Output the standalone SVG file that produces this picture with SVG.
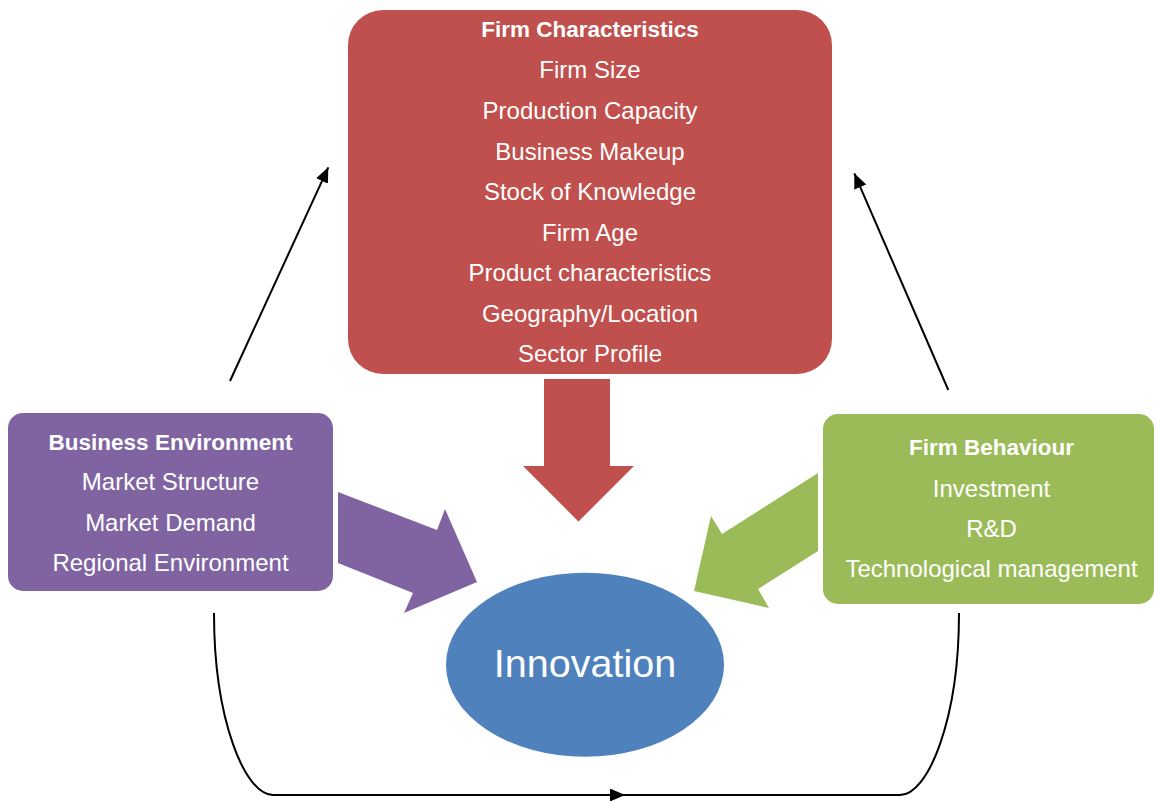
<svg xmlns="http://www.w3.org/2000/svg" width="1154" height="801" viewBox="0 0 1154 801">
<style>
  .t{font-family:"Liberation Sans",Arial,sans-serif;font-size:24px;fill:#ffffff;text-anchor:middle}
  .b{font-weight:bold;font-size:22.5px}
  .ln{fill:none;stroke:#000;stroke-width:2}
</style>
<defs>
  <marker id="ah" markerUnits="userSpaceOnUse" markerWidth="16" markerHeight="14" refX="15" refY="6.5" orient="auto">
    <path d="M0,0 L15,6.5 L0,13 Z" fill="#000"/>
  </marker>
</defs>
<rect width="1154" height="801" fill="#fff"/>

<g id="connectors">
  <path class="ln" d="M230,381 L328.3,167.3" marker-end="url(#ah)"/>
  <path class="ln" d="M948.3,390 L854.3,173.3" marker-end="url(#ah)"/>
  <path class="ln" d="M214,613 C214,720 245,795 273,795 L625,795" marker-end="url(#ah)"/>
  <path class="ln" d="M624,795 L900,795 C928,795 959,720 959,613"/>
  <polygon id="arrow-red" points="544,379 610,379 610,466 634,466 578.5,521.5 523,466 544,466" fill="#C0504D"/>
  <polygon id="arrow-purple" points="338,492 437,530 445,509 477,582 404,613 413,593 338,563" fill="#8064A2"/>
  <polygon id="arrow-green" points="818,473 722,534 711,516 694,591 769,608 758,589 818,551" fill="#9BBB59"/>
</g>

<g id="firm-characteristics">
  <rect x="348" y="10" width="484" height="364" rx="35" ry="35" fill="#C0504D"/>
  <text class="t b" x="590" y="36.7">Firm Characteristics</text>
  <text class="t" x="590" y="78.3">Firm Size</text>
  <text class="t" x="590" y="118.9">Production Capacity</text>
  <text class="t" x="590" y="159.5">Business Makeup</text>
  <text class="t" x="590" y="200.1">Stock of Knowledge</text>
  <text class="t" x="590" y="240.7">Firm Age</text>
  <text class="t" x="590" y="281.3">Product characteristics</text>
  <text class="t" x="590" y="321.9">Geography/Location</text>
  <text class="t" x="590" y="362.3">Sector Profile</text>
</g>

<g id="business-environment">
  <rect x="8" y="413" width="325" height="178" rx="15" ry="15" fill="#8064A2"/>
  <text class="t b" x="170.5" y="449.5">Business Environment</text>
  <text class="t" x="170.5" y="490">Market Structure</text>
  <text class="t" x="170.5" y="530.5">Market Demand</text>
  <text class="t" x="170.5" y="571">Regional Environment</text>
</g>

<g id="firm-behaviour">
  <rect x="823" y="414" width="331" height="190" rx="15" ry="15" fill="#9BBB59"/>
  <text class="t b" x="991.5" y="455">Firm Behaviour</text>
  <text class="t" x="991.5" y="496.5">Investment</text>
  <text class="t" x="991.5" y="536.7">R&amp;D</text>
  <text class="t" x="991.5" y="576.7">Technological management</text>
</g>

<g id="innovation">
  <ellipse cx="585" cy="664.7" rx="139" ry="92" fill="#4F81BD"/>
  <text class="t" x="585" y="677" style="font-size:39.5px">Innovation</text>
</g>
</svg>
